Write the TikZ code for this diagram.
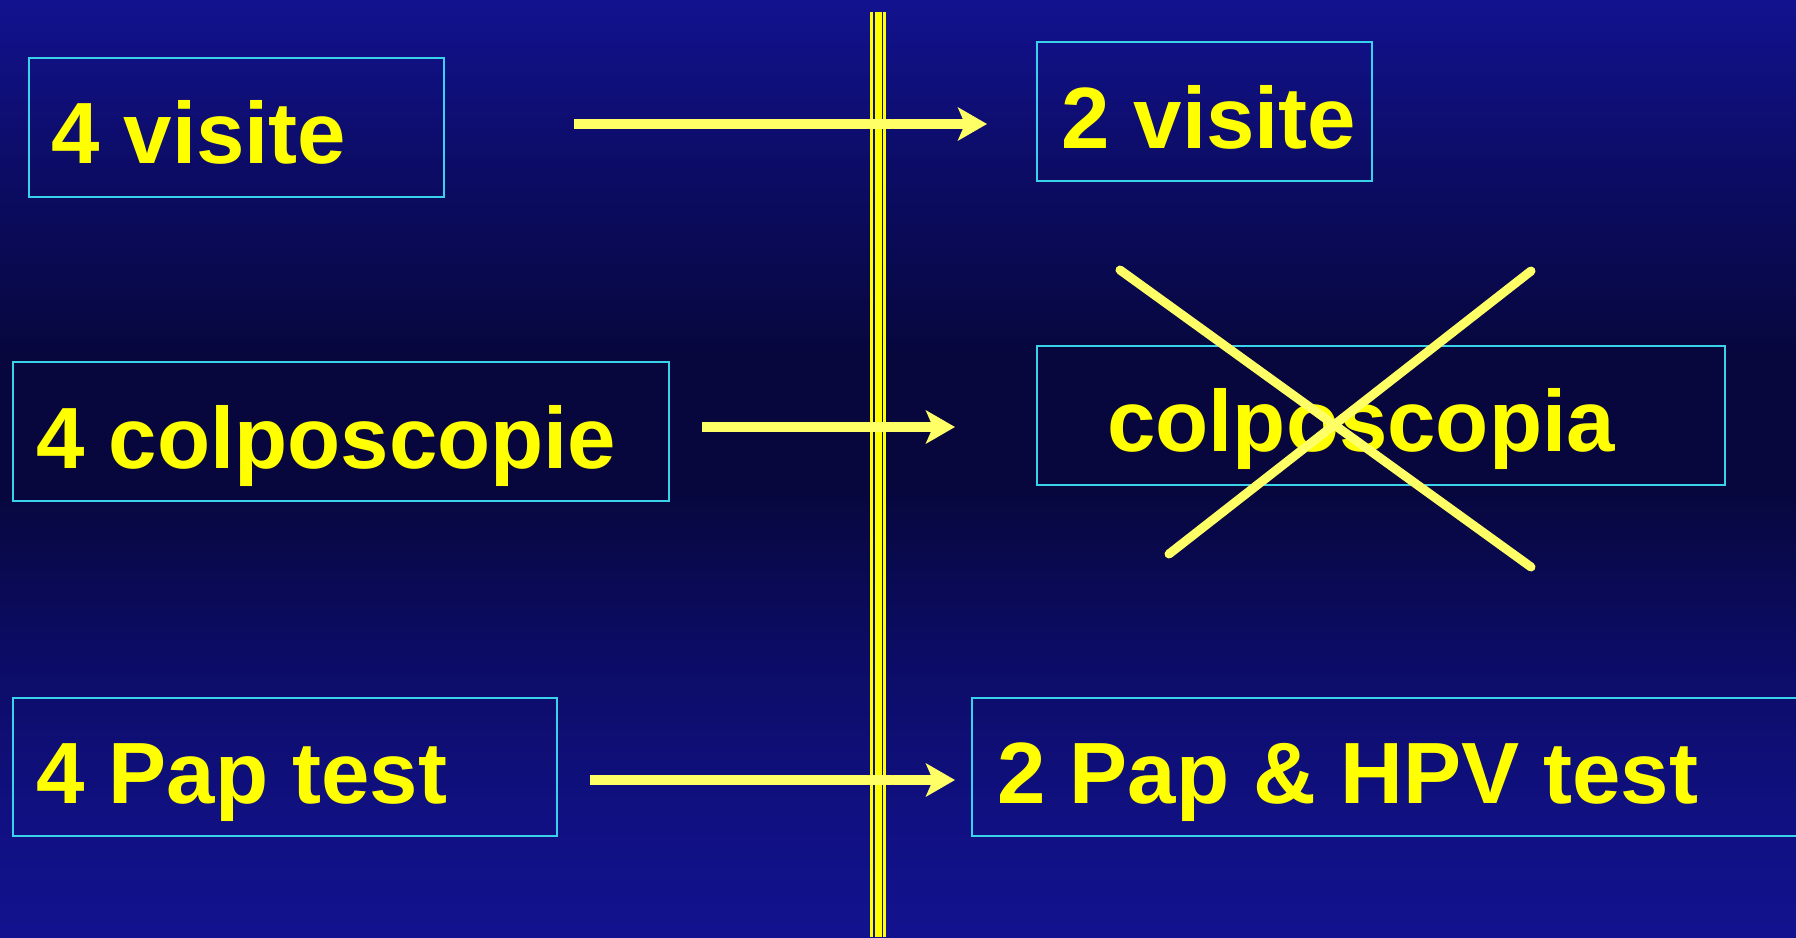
\documentclass[tikz,border=0pt]{standalone}
\usepackage{fontspec}
\setmainfont{Liberation Sans}
\usetikzlibrary{arrows.meta}

\definecolor{bgblue}{HTML}{12128F}
\definecolor{bgnavy}{HTML}{07073D}
\definecolor{bgmid}{HTML}{0C0C66}
\definecolor{boxline}{HTML}{3AD2EA}
\definecolor{txtyellow}{HTML}{FFFF00}
\definecolor{penyellow}{HTML}{FFFF66}

% background: blue at top and bottom, dark navy in the middle
% (the path fills the 25bp--75bp band of the shading)
\pgfdeclareverticalshading{slidebg}{100bp}{%
  color(0bp)=(bgblue);
  color(25bp)=(bgblue);
  color(31bp)=(bgblue!85!bgnavy);
  color(40bp)=(bgmid);
  color(49bp)=(bgnavy);
  color(56bp)=(bgnavy);
  color(66bp)=(bgmid);
  color(75bp)=(bgblue);
  color(100bp)=(bgblue)}

\tikzset{
  itembox/.style={draw=boxline, line width=2.6pt, rectangle, inner sep=0pt},
  itemtext/.style={anchor=base west, inner sep=0pt, text=txtyellow,
    font=\fontsize{87}{100}\selectfont\bfseries},
  changearrow/.style={draw=penyellow, line width=10pt,
    -{Stealth[length=29pt, width=33pt, inset=7pt]}},
  strike/.style={draw=penyellow, line width=9pt, line cap=round},
  divider/.style={draw=txtyellow},
}

\begin{document}
\begin{tikzpicture}[x=1pt, y=-1pt]
  \useasboundingbox (0,0) rectangle (1796,937);
  \shade[shading=slidebg] (0,0) rectangle (1796,937);

  % triple vertical divider
  \coordinate (divtop) at (878.5,12);
  \coordinate (divbot) at (878.5,937);
  \draw[divider, line width=3pt] ([xshift=-7pt]divtop) -- ([xshift=-7pt]divbot);
  \draw[divider, line width=6.5pt] (divtop) -- (divbot);
  \draw[divider, line width=3pt] ([xshift=6pt]divtop) -- ([xshift=6pt]divbot);

  % boxes
  \node[itembox, minimum width=415pt, minimum height=139pt] (b1) at (236.5,127.5) {};
  \node[itembox, minimum width=335pt, minimum height=139pt] (b2) at (1204.5,111.5) {};
  \node[itembox, minimum width=656pt, minimum height=139pt] (b3) at (341,431.5) {};
  \node[itembox, minimum width=688pt, minimum height=139pt] (b4) at (1381,415.5) {};
  \node[itembox, minimum width=544pt, minimum height=138pt] (b5) at (285,767) {};
  \node[itembox, minimum width=860pt, minimum height=138pt] (b6) at (1402,767) {};

  % texts
  \node[itemtext] (t1) at (51,163) {4 visite};
  \node[itemtext] (t2) at (1061,148) {2 visite};
  \node[itemtext] (t3) at (36,468) {4 colposcopie};
  \node[itemtext] (t4) at (1107,451) {colposcopia};
  \node[itemtext] (t5) at (36,803) {4 Pap test};
  \node[itemtext] (t6) at (997,803) {2 Pap \& HPV test};

  % arrows from old to new
  \coordinate (a1s) at (574,124);  \coordinate (a1e) at (987,124);
  \coordinate (a2s) at (702,427);  \coordinate (a2e) at (955,427);
  \coordinate (a3s) at (590,780);  \coordinate (a3e) at (955,780);
  \draw[changearrow] (a1s) -- (a1e);
  \draw[changearrow] (a2s) -- (a2e);
  \draw[changearrow] (a3s) -- (a3e);

  % cross over the colposcopy box
  \coordinate (x1s) at (1120,270);  \coordinate (x1e) at (1531,567);
  \coordinate (x2s) at (1169,554);  \coordinate (x2e) at (1531,271);
  \draw[strike] (x1s) -- (x1e);
  \draw[strike] (x2s) -- (x2e);
\end{tikzpicture}
\end{document}
